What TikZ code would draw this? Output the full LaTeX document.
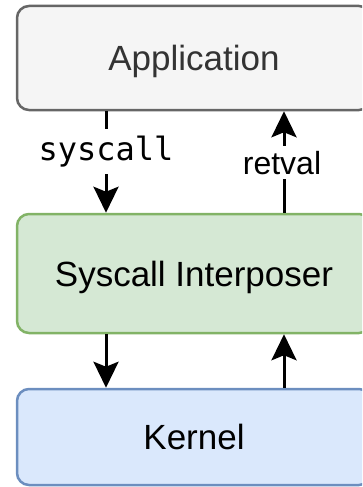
\documentclass[tikz,border=0pt]{standalone}
\usepackage{fontspec}
\setmainfont{Liberation Sans}
\setmonofont{DejaVu Sans Mono}
\usetikzlibrary{arrows.meta}
\definecolor{appfill}{HTML}{F5F5F5}
\definecolor{appline}{HTML}{666666}
\definecolor{apptext}{HTML}{333333}
\definecolor{midfill}{HTML}{D5E8D4}
\definecolor{midline}{HTML}{82B366}
\definecolor{kernfill}{HTML}{DAE8FC}
\definecolor{kernline}{HTML}{6C8EBF}
\begin{document}
\begin{tikzpicture}[x=1pt,y=-1pt,
  layer/.style={rounded corners=12pt, line width=2.5pt, minimum width=354pt,
    inner sep=0pt, text height=25pt, text depth=0pt,
    font=\fontsize{35}{42}\selectfont},
  flow/.style={line width=3pt, -{Stealth[length=26pt,width=25pt,inset=5pt]}},
  tag/.style={fill=white, inner xsep=2pt, anchor=base,
    font=\fontsize{32}{38}\selectfont}]
\useasboundingbox (0,0) rectangle (362,487);
\clip (0,0) rectangle (362,487);

% the three layers
\node[layer, fill=appfill, draw=appline, text=apptext, minimum height=104pt]
  (app) at (194,58) {Application};
\node[layer, fill=midfill, draw=midline, minimum height=119pt]
  (mid) at (194,273.5) {Syscall Interposer};
\node[layer, fill=kernfill, draw=kernline, minimum height=96pt]
  (kern) at (194,437) {Kernel};

% columns of the call and return paths
\coordinate (lx) at (106,0);
\coordinate (rx) at (284,0);

% application <-> interposer
\draw[flow] (lx |- app.south) -- (lx |- mid.north);
\draw[flow] (rx |- mid.north) -- (rx |- app.south);
\node[tag, inner ysep=7pt, font=\fontsize{32}{38}\selectfont\ttfamily]
  (sc) at (106,160) {syscall};
\node[tag, inner ysep=5pt] (rv) at (282,174) {retval};

% interposer <-> kernel
\draw[flow] (lx |- mid.south) -- (lx |- kern.north);
\draw[flow] (rx |- kern.north) -- (rx |- mid.south);
\end{tikzpicture}
\end{document}
